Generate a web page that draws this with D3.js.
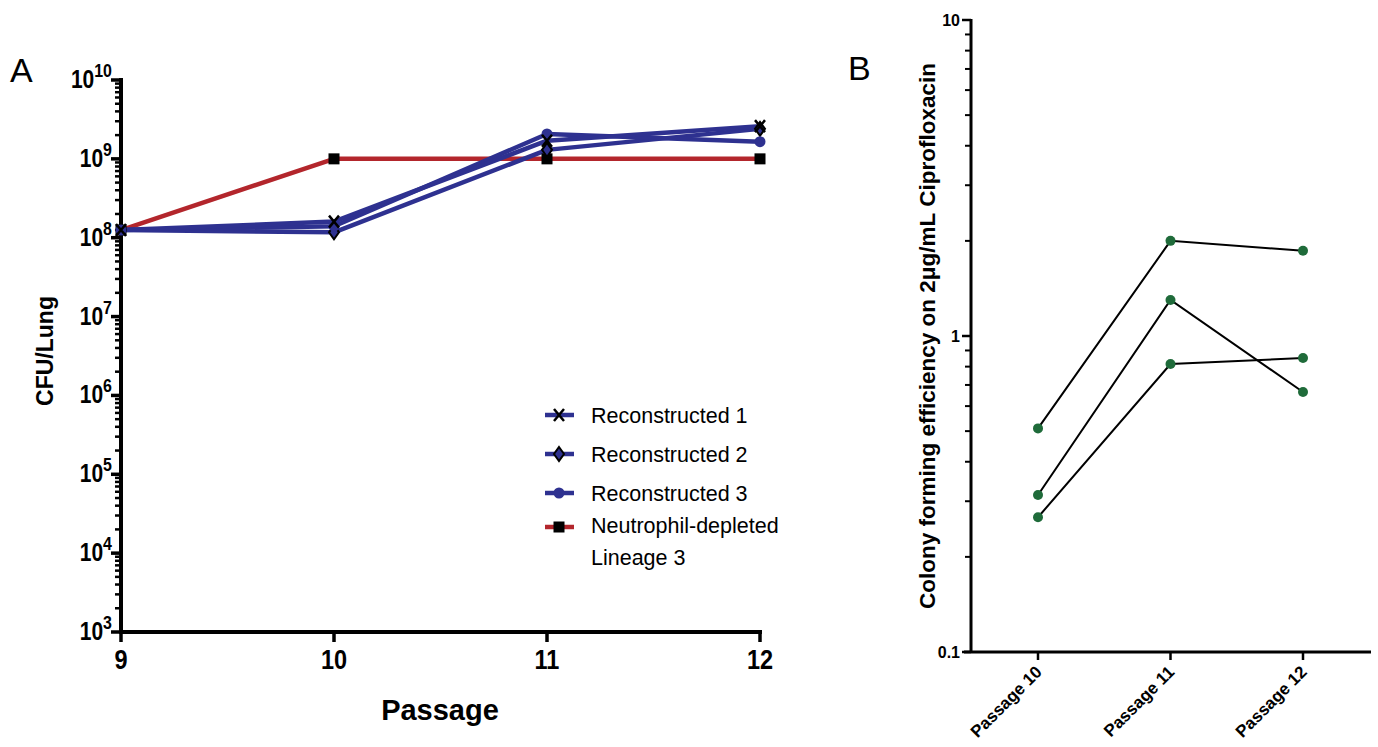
<!DOCTYPE html>
<html><head><meta charset="utf-8">
<script src="https://cdn.jsdelivr.net/npm/d3@7"></script>
<style>body{margin:0;background:#fff}svg{display:block}text{font-family:"Liberation Sans",Arial,sans-serif}</style>
</head><body><svg id="c" width="1378" height="747"></svg>
<script>
// Panel A data
const passages = [9, 10, 11, 12];
const recon1 = [1.25e8, 1.6e8, 1.7e9, 2.6e9];
const recon2 = [1.25e8, 1.17e8, 1.3e9, 2.4e9];
const recon3 = [1.25e8, 1.4e8, 2.07e9, 1.65e9];
const neutro = [1.25e8, 1.0e9, 1.0e9, 1.0e9];
const seriesNamesA = ["Reconstructed 1", "Reconstructed 2", "Reconstructed 3", "Neutrophil-depleted|Lineage 3"];
const yExpA = [3, 4, 5, 6, 7, 8, 9, 10];
// Panel B data
const bCats = ["Passage 10", "Passage 11", "Passage 12"];
const bLine1 = [0.51, 2.0, 1.86];
const bLine2 = [0.314, 1.30, 0.665];
const bLine3 = [0.267, 0.815, 0.852];
const bTicks = [0.1, 1, 10];

const svg = d3.select("#c");
const BLUE = "#2e3190", RED = "#b3262c", GREEN = "#1f6b3a";
const NARROW = 0.84;

// ---------- Panel A ----------
const xA = d3.scaleLinear().domain([9, 12]).range([121, 760]);
const yA = d3.scaleLog().domain([1e3, 1e10]).range([632, 80]);
const gA = svg.append("g");

const minorA = [];
for (let e = 3; e < 10; e++) for (let m = 2; m <= 9; m++) minorA.push(m * Math.pow(10, e));
gA.selectAll(".mn").data(minorA).join("line")
  .attr("x1", 115).attr("x2", 121).attr("y1", d => yA(d)).attr("y2", d => yA(d))
  .attr("stroke", "#000").attr("stroke-width", 2.5);
gA.selectAll(".mj").data(yExpA).join("line")
  .attr("x1", 111).attr("x2", 121).attr("y1", d => yA(Math.pow(10, d))).attr("y2", d => yA(Math.pow(10, d)))
  .attr("stroke", "#000").attr("stroke-width", 3.5);
const lab = gA.selectAll(".yl").data(yExpA).join("text")
  .attr("transform", d => `translate(112,${yA(Math.pow(10, d)) + 8}) scale(${NARROW},1)`)
  .attr("text-anchor", "end").attr("font-weight", "bold").attr("font-size", 25);
lab.append("tspan").text("10");
lab.append("tspan").text(d => d).attr("font-size", 19).attr("dy", -11);
gA.append("line").attr("x1", 121).attr("x2", 121).attr("y1", 78).attr("y2", 634).attr("stroke", "#000").attr("stroke-width", 4);
gA.append("line").attr("x1", 119).attr("x2", 762).attr("y1", 632).attr("y2", 632).attr("stroke", "#000").attr("stroke-width", 4);
gA.selectAll(".xt").data(passages).join("line")
  .attr("x1", d => xA(d)).attr("x2", d => xA(d)).attr("y1", 632).attr("y2", 642)
  .attr("stroke", "#000").attr("stroke-width", 3.5);
gA.selectAll(".xl").data(passages).join("text")
  .attr("transform", d => `translate(${xA(d)},669) scale(${NARROW},1)`).attr("text-anchor", "middle")
  .attr("font-weight", "bold").attr("font-size", 28).text(d => d);
gA.append("text").attr("x", 440).attr("y", 720).attr("text-anchor", "middle")
  .attr("font-weight", "bold").attr("font-size", 29).text("Passage");
gA.append("text").attr("transform", "translate(53,351) rotate(-90)").attr("text-anchor", "middle")
  .attr("font-weight", "bold").attr("font-size", 23).text("CFU/Lung");
svg.append("text").attr("x", 10).attr("y", 82).attr("font-size", 34).text("A");
svg.append("text").attr("x", 848).attr("y", 80).attr("font-size", 34).text("B");

const line = d3.line().x((d, i) => xA(passages[i])).y(d => yA(d));
const seriesA = [
  {v: neutro, c: RED, m: "square"},
  {v: recon2, c: BLUE, m: "diamond"},
  {v: recon3, c: BLUE, m: "circle"},
  {v: recon1, c: BLUE, m: "cross"}
];
seriesA.forEach(s => {
  gA.append("path").attr("d", line(s.v)).attr("fill", "none").attr("stroke", s.c).attr("stroke-width", 4.5).attr("stroke-linejoin", "round");
});
function marker(g, type, x, y) {
  if (type === "square") g.append("rect").attr("x", x - 5.5).attr("y", y - 5.5).attr("width", 11).attr("height", 11).attr("fill", "#000");
  else if (type === "diamond") g.append("path").attr("d", `M${x},${y-7}L${x+5},${y}L${x},${y+7}L${x-5},${y}Z`).attr("fill", BLUE).attr("stroke", "#000").attr("stroke-width", 2);
  else if (type === "circle") g.append("circle").attr("cx", x).attr("cy", y).attr("r", 5.5).attr("fill", BLUE);
  else if (type === "cross") g.append("path").attr("d", `M${x-5},${y-6}L${x+5},${y+6}M${x+5},${y-6}L${x-5},${y+6}`).attr("stroke", "#000").attr("stroke-width", 2.5);
}
seriesA.forEach(s => s.v.forEach((v, i) => marker(gA, s.m, xA(passages[i]), yA(v))));

const legItems = [
  {n: seriesNamesA[0], c: BLUE, m: "cross", y: 415},
  {n: seriesNamesA[1], c: BLUE, m: "diamond", y: 454},
  {n: seriesNamesA[2], c: BLUE, m: "circle", y: 493},
  {n: seriesNamesA[3], c: RED, m: "square", y: 527}
];
legItems.forEach(it => {
  gA.append("line").attr("x1", 545).attr("x2", 574).attr("y1", it.y).attr("y2", it.y).attr("stroke", it.c).attr("stroke-width", 4.5);
  marker(gA, it.m, 559, it.y);
  const parts = it.n.split("|");
  parts.forEach((p, k) => gA.append("text").attr("x", 591).attr("y", it.y + (parts.length > 1 ? 6 : 8) + k * 32).attr("font-size", 21.5).text(p));
});

// ---------- Panel B ----------
const xB = d3.scalePoint().domain(bCats).range([1038, 1303]);
const yB = d3.scaleLog().domain([0.1, 10]).range([652, 20]);
const gB = svg.append("g");
const minorB = [];
for (let e = -1; e < 1; e++) for (let m = 2; m <= 9; m++) minorB.push(m * Math.pow(10, e));
gB.selectAll(".mn").data(minorB).join("line")
  .attr("x1", 965).attr("x2", 971).attr("y1", d => yB(d)).attr("y2", d => yB(d))
  .attr("stroke", "#000").attr("stroke-width", 2);
gB.selectAll(".mj").data(bTicks).join("line")
  .attr("x1", 962).attr("x2", 971).attr("y1", d => yB(d)).attr("y2", d => yB(d))
  .attr("stroke", "#000").attr("stroke-width", 2.5);
gB.selectAll(".yl").data(bTicks).join("text")
  .attr("x", 960).attr("y", d => yB(d) + 6).attr("text-anchor", "end")
  .attr("font-weight", "bold").attr("font-size", 16).text(d => d);
gB.append("line").attr("x1", 971).attr("x2", 971).attr("y1", 19).attr("y2", 653).attr("stroke", "#000").attr("stroke-width", 3);
gB.append("line").attr("x1", 964).attr("x2", 1371).attr("y1", 652).attr("y2", 652).attr("stroke", "#000").attr("stroke-width", 3);
gB.selectAll(".xt").data(bCats).join("line")
  .attr("x1", d => xB(d)).attr("x2", d => xB(d)).attr("y1", 652).attr("y2", 660)
  .attr("stroke", "#000").attr("stroke-width", 2.5);
gB.selectAll(".xl").data(bCats).join("text")
  .attr("transform", d => `translate(${xB(d) + 5},${673}) rotate(-45)`)
  .attr("text-anchor", "end").attr("font-weight", "bold").attr("font-size", 17).text(d => d);
gB.append("text").attr("transform", "translate(935,336) rotate(-90)").attr("text-anchor", "middle")
  .attr("font-weight", "bold").attr("font-size", 22.5).text("Colony forming efficiency on 2μg/mL Ciprofloxacin");
const lineB = d3.line().x((d, i) => xB(bCats[i])).y(d => yB(d));
[bLine1, bLine2, bLine3].forEach(s => {
  gB.append("path").attr("d", lineB(s)).attr("fill", "none").attr("stroke", "#000").attr("stroke-width", 2);
  s.forEach((v, i) => gB.append("circle").attr("cx", xB(bCats[i])).attr("cy", yB(v)).attr("r", 5).attr("fill", GREEN));
});
</script></body></html>
